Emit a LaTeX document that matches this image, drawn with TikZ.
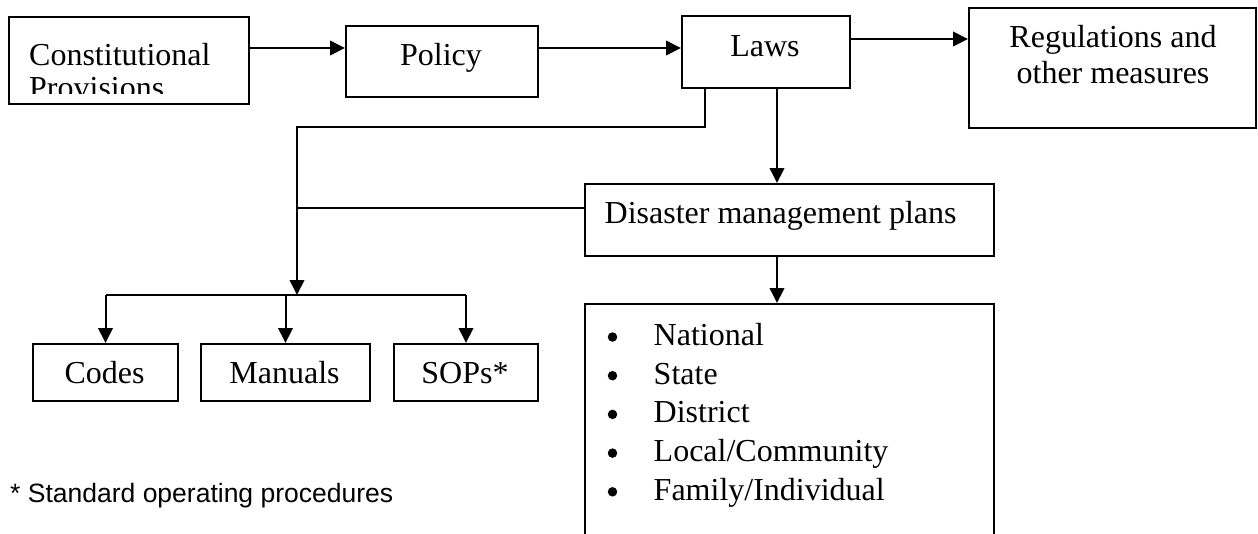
\documentclass[tikz,border=0pt]{standalone}
\usepackage{fontspec}
\setmainfont{Liberation Serif}
\newfontfamily\notefont{Liberation Sans}
\usetikzlibrary{arrows.meta}
\begin{document}
\begin{tikzpicture}[x=1pt,y=-1pt,
  box/.style={draw, line width=2pt, inner sep=0pt, anchor=north west},
  ln/.style={line width=2pt},
  arr/.style={line width=2pt, -{Triangle[length=15pt,width=14.5pt]}},
  lbl/.style={inner sep=0pt, anchor=base, font=\fontsize{32}{36}\selectfont},
  lblw/.style={inner sep=0pt, anchor=base west, font=\fontsize{32}{36}\selectfont},
  bul/.style={circle, fill, inner sep=0pt, minimum size=9.5pt},
  note/.style={inner sep=0pt, anchor=base west, font=\notefont\fontsize{26.5}{30}\selectfont}]
\useasboundingbox (0,0) rectangle (1258,533);
% boxes
\node[box, minimum width=240pt, minimum height=87pt] (con) at (8,16) {};
\node[box, minimum width=192pt, minimum height=71pt] (pol) at (345,25) {};
\node[box, minimum width=168pt, minimum height=72pt] (laws) at (681,15) {};
\node[box, minimum width=287pt, minimum height=120pt] (reg) at (968,7) {};
\node[box, minimum width=409pt, minimum height=72pt] (dmp) at (584,183) {};
\node[box, minimum width=409pt, minimum height=260pt] (list) at (584,303) {};
\node[box, minimum width=145pt, minimum height=57pt] (codes) at (32,343) {};
\node[box, minimum width=169pt, minimum height=57pt] (man) at (200,343) {};
\node[box, minimum width=144pt, minimum height=57pt] (sops) at (393,343) {};
% texts
\begin{scope}
\clip (8,16) rectangle (248,93);
\node[lblw] (t1) at (29,65) {Constitutional};
\node[lblw] (t2) at (29,98) {Provisions};
\end{scope}
\node[lbl] (t3) at (441,65) {Policy};
\node[lbl] (t4) at (765,56) {Laws};
\node[lbl] (t5) at (1113,47) {Regulations and};
\node[lbl] (t6) at (1113,83) {other measures};
\node[lblw] (t7) at (604.5,223) {Disaster management plans};
\node[lbl] (t8) at (104.5,383) {Codes};
\node[lbl] (t9) at (284.5,383) {Manuals};
\node[lbl] (t10) at (465,383) {SOPs*};
\foreach \i/\w in {0/National,1/State,2/District,3/Local\slash Community,4/Family\slash Individual}{
  \node[bul] (b\i) at (612.5,{337+38.7*\i}) {};
  \node[lblw] (l\i) at (653.5,{345.5+38.7*\i}) {\w};
}
\node[note] (fn) at (10,502) {* Standard operating procedures};
% helper coordinates
\coordinate (yA) at (0,48);
\coordinate (yB) at (0,39);
\coordinate (xL) at (705,0);
\coordinate (xM) at (777,0);
\coordinate (c1) at (297,127);
\coordinate (j1) at (297,295);
\coordinate (j2) at (297,208);
% connectors
\draw[arr] (con.east |- yA) -- (pol.west |- yA);
\draw[arr] (pol.east |- yA) -- (laws.west |- yA);
\draw[arr] (laws.east |- yB) -- (reg.west |- yB);
\draw[arr] (laws.south -| xL) |- (c1) -- (j1);
\draw[ln] (dmp.west |- j2) -- (j2);
\draw[ln] (j1 -| codes.north) -- (j1 -| sops.north);
\draw[arr] (j1 -| codes.north) -- (codes.north);
\draw[arr] (j1 -| man.north) -- (man.north);
\draw[arr] (j1 -| sops.north) -- (sops.north);
\draw[arr] (laws.south -| xM) -- (dmp.north -| xM);
\draw[arr] (dmp.south -| xM) -- (list.north -| xM);
\end{tikzpicture}
\end{document}
